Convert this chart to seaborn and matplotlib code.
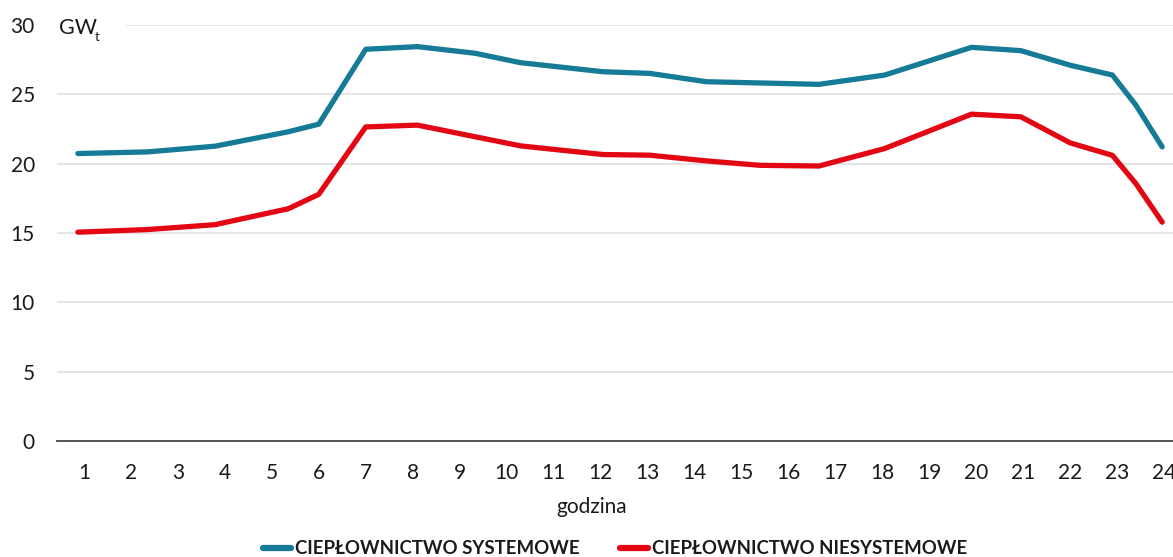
import numpy as np
import pandas as pd
import matplotlib
matplotlib.use("Agg")
import matplotlib.pyplot as plt
import seaborn as sns
from matplotlib.patches import Rectangle
from matplotlib.lines import Line2D

# ---- data ----
hours = [0.87, 2.36, 3.79, 5.35, 6.0, 7.0, 8.1, 9.33, 10.3, 12.05, 13.05,
         14.25, 15.4, 16.65, 18.05, 19.9, 20.95, 22.0, 22.9, 23.4, 23.96]
systemowe = [20.73, 20.85, 21.26, 22.3, 22.85, 28.25, 28.44, 27.96, 27.28, 26.63, 26.51,
             25.91, 25.82, 25.72, 26.39, 28.39, 28.15, 27.1, 26.39, 24.22, 21.21]
niesystemowe = [15.06, 15.25, 15.6, 16.75, 17.79, 22.65, 22.78, 21.94, 21.28, 20.66, 20.61,
                20.2, 19.88, 19.83, 21.09, 23.57, 23.38, 21.5, 20.6, 18.56, 15.78]
series_names = ["CIEPŁOWNICTWO SYSTEMOWE", "CIEPŁOWNICTWO NIESYSTEMOWE"]
x_ticks = list(range(1, 25))
y_ticks = [0, 5, 10, 15, 20, 25, 30]
unit_label = "GW"
unit_sub = "t"
x_label = "godzina"

colors = ["#157B97", "#E30613"]

df = pd.DataFrame({
    "hour": hours * 2,
    "value": systemowe + niesystemowe,
    "series": [series_names[0]] * len(hours) + [series_names[1]] * len(hours),
})

sns.set_theme(style="white")
plt.rcParams["font.family"] = ["Lato", "DejaVu Sans"]

fig = plt.figure(figsize=(11.73, 5.57), dpi=100)
ax = fig.add_axes([57 / 1173, 1 - 441 / 557, 1 - 57 / 1173, (441 - 25) / 557])

sns.lineplot(data=df, x="hour", y="value", hue="series", palette=colors,
             linewidth=3.8, ax=ax, legend=False, sort=False)

ax.set_xlim(0.425, 24.19)
ax.set_ylim(0, 30)
ax.set_xticks(x_ticks)
ax.set_xticklabels([str(t) for t in x_ticks])
ax.set_yticks(y_ticks)
ax.tick_params(axis="both", length=0, labelsize=15, colors="#1a1a1a")
ax.tick_params(axis="y", pad=16)
ax.tick_params(axis="x", pad=16)
ax.set_xlabel("")
ax.set_ylabel("")

ax.grid(axis="y", color="#e3e3e3", linewidth=1.3, zorder=0)
ax.grid(axis="x", visible=False)
for s in ["top", "right", "left"]:
    ax.spines[s].set_visible(False)
ax.spines["bottom"].set_color("#555555")
ax.spines["bottom"].set_linewidth(1.4)
ax.spines["bottom"].set_zorder(1)

# white mask behind unit label on top gridline
ax.add_patch(Rectangle((0, 0.985), (126 - 57) / 1116, 0.03, transform=ax.transAxes,
                       facecolor="white", edgecolor="none", zorder=3, clip_on=False))
fig.text(59 / 1173, 1 - 28 / 557, unit_label, fontsize=15.5, color="#1a1a1a",
         ha="left", va="center", zorder=4)
fig.text(95 / 1173, 1 - 37 / 557, unit_sub, fontsize=9.5, color="#1a1a1a",
         ha="left", va="center", zorder=4)

fig.text(592 / 1173, 1 - 507 / 557, x_label, fontsize=15, color="#1a1a1a",
         ha="center", va="center")

handles = [Line2D([0], [0], color=c, linewidth=4.5) for c in colors]
leg = ax.legend(handles, series_names, loc="center", bbox_to_anchor=(0.5, (441 - 549) / 416),
                ncol=2, frameon=False, handlelength=1.5, handletextpad=0.2,
                columnspacing=2.2, prop={"weight": "bold", "size": 13.4})
for t in leg.get_texts():
    t.set_color("#1a1a1a")

fig.savefig("out.png", dpi=100, facecolor="white")
